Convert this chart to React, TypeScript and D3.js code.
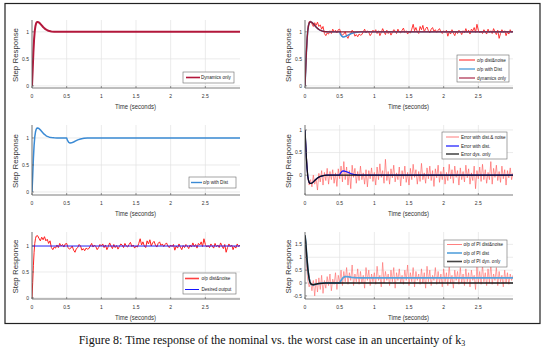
import React from "react";
import * as d3 from "d3";

// ---------- data ----------
const xTicks = [0, 0.5, 1, 1.5, 2, 2.5];
const xTickLabels = ["0", "0.5", "1", "1.5", "2", "2.5"];

// nominal step response (dynamics only)
const tDyn = [0, 0.01, 0.02, 0.03, 0.04, 0.05, 0.06, 0.07, 0.08, 0.1, 0.12, 0.14, 0.16, 0.18, 0.2, 0.22, 0.25, 0.28, 0.32, 0.36, 0.4, 0.5, 1, 2, 3];
const yDyn = [0, 0.3, 0.62, 0.86, 1.02, 1.11, 1.16, 1.18, 1.185, 1.175, 1.15, 1.12, 1.09, 1.065, 1.045, 1.03, 1.015, 1.007, 1.002, 1.0, 1.0, 1.0, 1, 1, 1];

// disturbance dip after t = 0.5
const tDistTail = [0.51, 0.53, 0.55, 0.57, 0.6, 0.63, 0.66, 0.7, 0.75, 0.8, 3];
const yDistTail = [0.96, 0.92, 0.905, 0.91, 0.925, 0.945, 0.965, 0.982, 0.995, 1.0, 1.0];

// output with disturbance & noise
const tOutEarly = [0, 0.01, 0.02, 0.03, 0.04, 0.05, 0.06, 0.08, 0.1, 0.12, 0.14, 0.16, 0.18, 0.2, 0.22, 0.24, 0.26, 0.28];
const yOutEarly = [0, 0.3, 0.62, 0.88, 1.05, 1.14, 1.19, 1.2, 1.15, 1.1, 1.17, 1.12, 1.18, 1.1, 1.13, 1.05, 1.1, 0.97];
const outNoiseStart = 0.3;
const outNoiseStep = 0.02;
const yOutNoise = [
  0.93, 0.98, 0.96, 1.02, 0.97, 1.05, 1.0, 1.03, 0.98, 1.04, 1.05,
  0.97, 0.94, 0.96, 1.0, 0.92, 0.88, 0.95, 0.97, 1.03, 1.0, 0.92, 0.95, 0.91, 0.96, 0.94,
  0.95, 1.0, 1.05, 0.98, 1.02, 0.99, 0.93, 0.97, 1.03, 1.0,
  1.04, 0.97, 1.02, 0.93, 0.99, 1.06, 1.0, 0.95, 1.03, 0.97, 1.01, 0.94, 0.99, 1.04, 1.02, 0.97, 1.05, 1.0, 0.98, 1.03, 1.07, 0.99, 1.02, 0.96, 1.0,
  0.98, 1.05, 1.14, 1.02, 1.08, 1.0, 0.97, 1.1, 1.04, 1.12, 1.0, 1.06, 1.09, 1.02, 0.98, 1.05, 1.08, 1.01, 1.04, 0.99, 1.03, 1.06, 1.0, 0.97, 1.02,
  0.99, 1.03, 0.92, 1.0, 0.96, 1.04, 0.98, 0.93, 1.01, 0.97, 1.03, 1.0, 0.95, 1.02, 0.98, 1.06, 0.99, 1.03, 0.96, 1.05, 1.02, 1.08, 0.99, 1.14, 1.03,
  0.98, 1.01, 0.97, 1.04, 1.0, 0.96, 1.05, 0.99, 1.02, 0.97, 1.06, 1.0, 0.95, 1.03, 0.88, 0.97, 1.04, 0.99, 1.02, 0.93, 1.0, 0.96, 1.04, 0.99, 1.02,
];

// error with disturbance & noise (sampled every 0.02 s)
const errNoiseStep = 0.02;
const yErrNoise = [
  1.0, 0.42, -0.05, -0.22, -0.1, -0.26, 0.0, -0.2, -0.08, -0.33,
  0.04, -0.15, 0.1, -0.22, 0.06, -0.12, 0.15, -0.2, 0.08, -0.1,
  0.12, -0.18, 0.05, -0.25, 0.14, -0.08, 0.2, -0.15, 0.3, -0.1,
  0.18, -0.22, 0.1, -0.3, 0.22, -0.05, 0.15, -0.18, 0.08, -0.12,
  0.2, -0.1, 0.05, -0.2, 0.12, -0.26, 0.1, -0.08, 0.16, -0.14,
  0.06, -0.22, 0.18, -0.1, 0.25, -0.05, 0.1, -0.18, 0.35, -0.12,
  0.08, -0.2, 0.14, -0.06, 0.22, -0.15, 0.05, -0.1, 0.18, -0.24,
  0.1, -0.08, 0.2, -0.16, 0.06, -0.22, 0.15, -0.1, 0.24, -0.05,
  0.12, -0.2, 0.08, -0.14, 0.26, -0.1, 0.05, -0.18, 0.16, -0.08,
  0.2, -0.12, 0.1, -0.25, 0.14, -0.06, 0.22, -0.16, 0.08, -0.1,
  0.18, -0.2, 0.06, -0.12, 0.24, -0.08, 0.12, -0.18, 0.2, -0.05,
  0.1, -0.22, 0.16, -0.1, 0.08, -0.15, 0.22, -0.06, 0.14, -0.2,
  0.05, -0.12, 0.2, -0.3, 0.1, -0.08, 0.18, -0.14, 0.24, -0.1,
  0.12, -0.18, 0.06, -0.1, 0.3, -0.2, 0.15, -0.05, 0.22, -0.12,
  0.08, -0.16, 0.2, -0.08, 0.12, -0.22, 0.1, -0.06, 0.16, -0.1, 0.05,
];

// PI output: dynamics only
const tPiDyn = [0, 0.01, 0.02, 0.03, 0.04, 0.05, 0.06, 0.07, 0.08, 0.1, 0.12, 0.15, 0.2, 0.25, 0.3, 0.5];
const yPiDyn = [1.85, 1.6, 1.22, 0.88, 0.58, 0.35, 0.17, 0.05, -0.02, -0.06, -0.07, -0.05, -0.02, -0.005, 0, 0];
const tPiDynTail = [3];
const yPiDynTail = [0];
// PI output: with disturbance (after t = 0.5)
const tPiDistTail = [0.52, 0.54, 0.56, 0.58, 0.6, 0.63, 0.67, 0.72, 0.8, 3];
const yPiDistTail = [0.1, 0.18, 0.23, 0.25, 0.25, 0.24, 0.22, 0.21, 0.2, 0.2];
// PI output with disturbance & noise (every 0.02 s)
const piNoiseStep = 0.02;
const yPiNoise = [
  1.8, 0.7, 0.1, -0.15, 0.05, -0.3, 0.1, -0.5, 0.15, -0.35,
  0.2, -0.25, 0.3, -0.4, 0.1, -0.2, 0.25, -0.1, 0.35, -0.3,
  0.15, -0.05, 0.4, -0.25, 0.3, 0.0, 0.5, -0.1, 0.45, 0.05,
  0.6, -0.05, 0.4, 0.1, 0.7, -0.1, 0.35, 0.05, 0.55, -0.05,
  0.45, 0.0, 0.3, -0.2, 0.6, 0.1, 0.5, -0.1, 0.35, 0.05,
  0.4, -0.05, 0.65, 0.1, 0.3, -0.15, 0.8, 0.0, 0.45, 0.1,
  0.35, -0.1, 0.5, 0.05, 0.6, -0.2, 0.4, 0.1, 0.55, 0.0,
  0.3, -0.05, 0.5, 0.1, 0.7, -0.1, 0.4, 0.05, 0.6, -0.15,
  0.45, 0.1, 0.35, -0.05, 0.55, 0.0, 0.4, -0.2, 0.65, 0.05,
  0.5, -0.1, 0.3, 0.1, 0.6, -0.05, 0.45, 0.0, 0.35, -0.15,
  0.55, 0.05, 0.4, -0.1, 0.7, 0.0, 0.3, -0.2, 0.5, 0.1,
  0.45, -0.05, 0.6, 0.0, 0.35, -0.1, 0.55, 0.05, 0.4, -0.15,
  0.5, 0.1, 0.3, -0.25, 0.65, 0.0, 0.45, -0.05, 0.7, 0.05,
  0.4, -0.1, 0.55, 0.0, 0.75, -0.05, 0.35, 0.1, 0.6, -0.1,
  0.45, 0.05, 0.3, -0.15, 0.5, 0.0, 0.4, -0.05, 0.35, 0.1, 0.3,
];

const tDesired = [0, 3];
const yDesired = [1, 1];

const legend1 = ["Dynamics only"];
const legend2 = ["o/p dist&noise", "o/p with Dist", "dynamics only"];
const legend3 = ["o/p with Dist"];
const legend4 = ["Error with dist.& noise", "Error with dist.", "Error dys. only"];
const legend5 = ["o/p dist&noise", "Desired output"];
const legend6 = ["o/p of PI  dist&noise", "o/p of PI  dist", "o/p of PI  dyn. only"];

// ---------- derived series ----------
type Pt = [number, number];
const zip = (t: number[], y: number[]): Pt[] => t.map((v, i) => [v, y[i]]);
const uniform = (start: number, step: number, y: number[]): Pt[] => y.map((v, i) => [start + i * step, v]);

const dynPts = zip(tDyn, yDyn);
const distPts: Pt[] = [...dynPts.filter((p) => p[0] <= 0.5), ...zip(tDistTail, yDistTail)];
const outPts: Pt[] = [...zip(tOutEarly, yOutEarly), ...uniform(outNoiseStart, outNoiseStep, yOutNoise)];
const errNoisePts = uniform(0, errNoiseStep, yErrNoise);
const errDynPts: Pt[] = dynPts.map(([t, y]) => [t, 1 - y]);
const errDistPts: Pt[] = distPts.map(([t, y]) => [t, 1 - y]);
const piDynPts: Pt[] = [...zip(tPiDyn, yPiDyn), ...zip(tPiDynTail, yPiDynTail)];
const piDistPts: Pt[] = [...zip(tPiDyn, yPiDyn), ...zip(tPiDistTail, yPiDistTail)];
const piNoisePts = uniform(0, piNoiseStep, yPiNoise);
const desiredPts = zip(tDesired, yDesired);

// ---------- styles ----------
const C = {
  crimson: "#b3173b",
  red: "#ff1f1f",
  lightRed: "#ff5a5a",
  blue: "#3a8ad4",
  pureBlue: "#1414ff",
  black: "#111111",
  piBlue: "#55a2dc",
  grid: "#e3e3e3",
  axis: "#5a5a5a",
};

type Series = { pts: Pt[]; color: string; width: number; opacity?: number };
type LegendCfg = {
  x0: number; y0: number; x1: number; y1: number;
  lx0: number; lx1: number; tx: number; rows: number[];
  labels: string[];
  styles: { color: string; width: number; opacity?: number }[];
};
type PanelProps = {
  id: string;
  left: number; right: number; top: number; bottom: number;
  yDomain: [number, number]; yTicks: number[];
  series: Series[];
  legend: LegendCfg;
};

const FONT = "'Liberation Sans', Arial, Helvetica, sans-serif";

function Panel({ id, left, right, top, bottom, yDomain, yTicks, series, legend }: PanelProps) {
  const x = d3.scaleLinear().domain([0, 3]).range([left, right]);
  const y = d3.scaleLinear().domain(yDomain).range([bottom, top]);
  const line = d3.line<Pt>().x((d) => x(d[0])).y((d) => y(d[1]));
  const fmt = (v: number) => (Number.isInteger(v) ? String(v) : String(v));
  return (
    <g>
      <defs>
        <clipPath id={id}>
          <rect x={left} y={top - 2} width={right - left} height={bottom - top + 2} />
        </clipPath>
      </defs>
      {xTicks.map((t) => (
        <line key={"gx" + t} x1={x(t)} x2={x(t)} y1={top} y2={bottom} stroke={C.grid} strokeWidth={0.7} />
      ))}
      {yTicks.map((t) => (
        <line key={"gy" + t} x1={left} x2={right} y1={y(t)} y2={y(t)} stroke={C.grid} strokeWidth={0.7} />
      ))}
      <g clipPath={`url(#${id})`}>
        {series.map((s, i) => (
          <path key={i} d={line(s.pts) || ""} fill="none" stroke={s.color} strokeWidth={s.width}
            strokeOpacity={s.opacity ?? 1} strokeLinejoin="round" />
        ))}
      </g>
      <line x1={left} x2={left} y1={top} y2={bottom} stroke={C.axis} strokeWidth={0.8} />
      <line x1={left} x2={right} y1={bottom} y2={bottom} stroke={C.axis} strokeWidth={0.8} />
      {xTicks.map((t, i) => (
        <g key={"xt" + t}>
          <line x1={x(t)} x2={x(t)} y1={bottom} y2={bottom - 2} stroke={C.axis} strokeWidth={0.6} />
          <text x={x(t)} y={bottom + 10} fontSize={5} textAnchor="middle" fill="#333" fontFamily={FONT}>
            {xTickLabels[i]}
          </text>
        </g>
      ))}
      {yTicks.map((t) => (
        <g key={"yt" + t}>
          <line x1={left} x2={left + 2} y1={y(t)} y2={y(t)} stroke={C.axis} strokeWidth={0.6} />
          <text x={left - 3} y={y(t) + 1.8} fontSize={5} textAnchor="end" fill="#333" fontFamily={FONT}>
            {fmt(t)}
          </text>
        </g>
      ))}
      <text x={(left + right) / 2 - 0.5} y={bottom + 21} fontSize={6.3} textAnchor="middle" fill="#333"
        fontFamily={FONT} textLength={41} lengthAdjust="spacingAndGlyphs">
        Time (seconds)
      </text>
      <text transform={`translate(${left - 14},${(top + bottom) / 2 + 1}) rotate(-90)`} fontSize={6.8}
        textAnchor="middle" fill="#333" fontFamily={FONT} textLength={54} lengthAdjust="spacingAndGlyphs">
        Step Response
      </text>
      <rect x={legend.x0} y={legend.y0} width={legend.x1 - legend.x0} height={legend.y1 - legend.y0}
        fill="#fff" stroke="#6a6a6a" strokeWidth={0.6} />
      {legend.labels.map((lab, i) => (
        <g key={"lg" + i}>
          <line x1={legend.lx0} x2={legend.lx1} y1={legend.rows[i]} y2={legend.rows[i]}
            stroke={legend.styles[i].color} strokeWidth={legend.styles[i].width}
            strokeOpacity={legend.styles[i].opacity ?? 1} />
          <text x={legend.tx} y={legend.rows[i] + 1.6} fontSize={4.6} fill="#222" fontFamily={FONT}>
            {lab}
          </text>
        </g>
      ))}
    </g>
  );
}

export default function App() {
  const L = { left: 32, right: 240 };
  const R = { left: 305, right: 513 };
  return (
    <svg width={546} height={349} style={{ position: "absolute", left: 0, top: 0, background: "#fff" }}>
      <rect x={5} y={3.5} width={535} height={320} fill="none" stroke="#222" strokeWidth={1.2} />
      {/* row 1 left */}
      <Panel id="c1" {...L} top={20} bottom={88} yDomain={[-0.04, 1.22]} yTicks={[0, 0.5, 1]}
        series={[{ pts: dynPts, color: C.crimson, width: 2 }]}
        legend={{ x0: 183, y0: 72, x1: 234, y1: 83, lx0: 186, lx1: 200, tx: 201, rows: [77.5],
          labels: legend1, styles: [{ color: C.crimson, width: 1.6 }] }} />
      {/* row 1 right */}
      <Panel id="c2" {...R} top={20} bottom={88} yDomain={[-0.04, 1.22]} yTicks={[0, 0.5, 1]}
        series={[
          { pts: outPts, color: C.red, width: 0.9 },
          { pts: distPts, color: C.blue, width: 1.5 },
          { pts: dynPts, color: "#8e1a30", width: 1.3 },
        ]}
        legend={{ x0: 457, y0: 55, x1: 509, y1: 82, lx0: 459, lx1: 475, tx: 477, rows: [60, 69, 78],
          labels: legend2,
          styles: [{ color: C.red, width: 1 }, { color: "#6fb0e0", width: 1.6 }, { color: "#c06078", width: 1.6 }] }} />
      {/* row 2 left */}
      <Panel id="c3" {...L} top={125} bottom={195} yDomain={[-0.056, 1.24]} yTicks={[0, 0.5, 1]}
        series={[{ pts: distPts, color: C.blue, width: 1.5 }]}
        legend={{ x0: 189, y0: 177, x1: 236, y1: 188, lx0: 191, lx1: 202, tx: 203, rows: [182.5],
          labels: legend3, styles: [{ color: C.blue, width: 1.4 }] }} />
      {/* row 2 right */}
      <Panel id="c4" {...R} top={125} bottom={195} yDomain={[-0.44, 1.11]} yTicks={[0, 0.5, 1]}
        series={[
          { pts: errNoisePts, color: C.lightRed, width: 0.7, opacity: 0.9 },
          { pts: errDistPts, color: C.pureBlue, width: 1.2 },
          { pts: errDynPts, color: C.black, width: 1.3 },
        ]}
        legend={{ x0: 442, y0: 132, x1: 507, y1: 159, lx0: 446, lx1: 459, tx: 461, rows: [137, 146, 154],
          labels: legend4,
          styles: [{ color: C.lightRed, width: 0.8 }, { color: C.pureBlue, width: 1.2 }, { color: C.black, width: 1.2 }] }} />
      {/* row 3 left */}
      <Panel id="c5" {...L} top={232} bottom={299} yDomain={[-0.02, 1.27]} yTicks={[0, 0.5, 1]}
        series={[
          { pts: outPts, color: C.red, width: 1 },
          { pts: desiredPts, color: C.pureBlue, width: 0.9 },
        ]}
        legend={{ x0: 183, y0: 273, x1: 236, y1: 294, lx0: 185, lx1: 199, tx: 201.5, rows: [278.5, 289.5],
          labels: legend5,
          styles: [{ color: "#ff4040", width: 1.6 }, { color: C.pureBlue, width: 1 }] }} />
      {/* row 3 right */}
      <Panel id="c6" {...R} top={232} bottom={299} yDomain={[-0.62, 1.98]} yTicks={[-0.5, 0, 0.5, 1, 1.5]}
        series={[
          { pts: piNoisePts, color: "#ff6a6a", width: 0.7, opacity: 0.9 },
          { pts: piDistPts, color: C.piBlue, width: 1.8 },
          { pts: piDynPts, color: "#1a1a1a", width: 1.5 },
        ]}
        legend={{ x0: 444, y0: 240, x1: 507, y1: 267, lx0: 447, lx1: 462, tx: 463.5, rows: [244.5, 253, 261.5],
          labels: legend6,
          styles: [{ color: "#ff8080", width: 1 }, { color: C.piBlue, width: 1.6 }, { color: "#444", width: 1.6 }] }} />
      <text x={272} y={344} fontSize={12} textAnchor="middle" fill="#111"
        fontFamily="'Liberation Serif', 'Times New Roman', serif">
        Figure 8: Time response of the nominal vs. the worst case in an uncertainty of k
        <tspan fontSize={8} dy={2}>3</tspan>
      </text>
    </svg>
  );
}
